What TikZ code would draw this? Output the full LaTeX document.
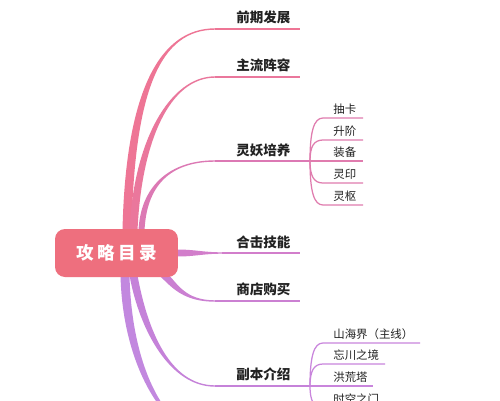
\documentclass[tikz,border=0pt]{standalone}
\usepackage{fontspec}
\newfontfamily\cjk{Noto Sans CJK SC}
\usetikzlibrary{calc,backgrounds}
\definecolor{rootfill}{HTML}{EE6F7E}
\definecolor{bpink}{HTML}{EE7595}
\definecolor{bpinkb}{HTML}{EA779C}
\definecolor{bmag}{HTML}{DC79B4}
\definecolor{bsub}{HTML}{E07CAE}
\definecolor{bviol}{HTML}{D27ECB}
\definecolor{bviolb}{HTML}{CB80D2}
\definecolor{bpurp}{HTML}{C582D9}
\definecolor{bsubb}{HTML}{C985DC}
\definecolor{bpurpb}{HTML}{C288DF}
\definecolor{ink}{HTML}{222222}
\tikzset{
  rootbox/.style={fill=rootfill,rounded corners=2mm,minimum width=24.6mm,
    minimum height=9.6mm,text=white,font=\cjk\bfseries\fontsize{10}{12}\selectfont},
  topic/.style={anchor=west,inner sep=0pt,text=ink,font=\cjk\bfseries\fontsize{7.7}{9}\selectfont},
  subtopic/.style={anchor=west,inner sep=0pt,text=ink,font=\cjk\fontsize{6.5}{8}\selectfont},
  uline/.style={line width=0.3mm},
  twig/.style={line width=0.25mm}
}
% tapered branch: colour, start, half width, start control, end control, end
\newcommand{\limb}[6]{\fill[#1] ($(#2)-(#3)$) .. controls +(#4) and +(#5) .. ($(#6)-(0,0.7)$)
  -- ($(#6)+(0,0.7)$) .. controls +(#5) and +(#4) .. ($(#2)+(#3)$) -- cycle;}

\begin{document}
\begin{tikzpicture}[x=0.02cm,y=-0.02cm]
  \useasboundingbox (0,0) rectangle (500,400);
  % central topic
  \node[rootbox] (root) at (116.5,253) {攻\hspace{0.7mm}略\hspace{0.7mm}目\hspace{0.7mm}录};
  % where the branches leave the root
  \coordinate (r1) at ($(root.north)+(10.5,2)$);
  \coordinate (r2) at ($(root.north)+(17,2)$);
  \coordinate (r3) at ($(root.north)+(25,2)$);
  \coordinate (r4) at ($(root.east)+(-2,0)$);
  \coordinate (r5) at ($(root.south east)+(-15,-3)$);
  \coordinate (r6) at ($(root.south)+(17,-2)$);
  \coordinate (r7) at ($(root.south)+(8.5,-2)$);
  % topic lines
  \foreach \n/\y/\e in {1/29/300,2/77/300,3/161/310,5/301/300,6/386/310}{
    \coordinate (s\n) at (215,\y);
    \coordinate (e\n) at (\e,\y);
  }
  \coordinate (s4) at (222,253);
  \coordinate (e4) at (300,253);
  \coordinate (s7) at (230,445);
  % topic labels
  \node[topic] (t1) at (236,17)  {前期发展};
  \node[topic] (t2) at (236,65)  {主流阵容};
  \node[topic] (t3) at (236,150) {灵妖培养};
  \node[topic] (t4) at (236,242) {合击技能};
  \node[topic] (t5) at (236,289) {商店购买};
  \node[topic] (t6) at (236,374) {副本介绍};
  % sub topics
  \foreach \k/\y/\txt in {1/118/抽卡,2/140/升阶,3/161/装备,4/183/灵印,5/205/灵枢}{
    \coordinate (a\k) at (323,\y);
    \coordinate (b\k) at (363,\y);
    \node[subtopic] (u\k) at (333,\y-9) {\txt};
  }
  \foreach \k/\y/\e/\txt in {1/343/420/山海界（主线）,2/364/385/忘川之境,3/386/373/洪荒塔,4/408/385/时空之门}{
    \coordinate (c\k) at (323,\y);
    \coordinate (d\k) at (\e,\y);
    \node[subtopic] (v\k) at (333,\y-9) {\txt};
  }
  \begin{scope}[on background layer]
    \clip (0,0) rectangle (500,400);
    \fill[white] (0,0) rectangle (500,400);
    \limb{bpink}{r1}{4.5,0}{3,-140}{-55,0}{s1}
    \limb{bpinkb}{r2}{4,0}{4,-90}{-45,0}{s2}
    \limb{bmag}{r3}{3,0}{2,-45}{-45,0}{s3}
    \limb{bviol}{r4}{0,3.5}{20,0}{-20,0}{s4}
    \limb{bviolb}{r5}{-2.5,2.5}{12,12}{-30,0}{s5}
    \limb{bpurp}{r6}{-4,0}{10,55}{-45,0}{s6}
    \limb{bpurpb}{r7}{-4.5,0}{2,90}{-65,0}{s7}
    \foreach \n/\c in {1/bpink,2/bpinkb,3/bmag,4/bviol,5/bviolb,6/bpurp}{
      \draw[uline,\c] (s\n) -- (e\n);
    }
    % fan of the cultivation topic
    \foreach \k/\y in {1/118,2/140,3/161,4/183,5/205}{
      \draw[twig,bsub] (e3) .. controls +(0,{(\y-161)*0.7}) and +(-9,0) .. (a\k) -- (b\k);
    }
    % fan of the dungeon topic
    \foreach \k/\y in {1/343,2/364,3/386,4/408}{
      \draw[twig,bsubb] (e6) .. controls +(0,{(\y-386)*0.7}) and +(-9,0) .. (c\k) -- (d\k);
    }
  \end{scope}
\end{tikzpicture}
\end{document}
